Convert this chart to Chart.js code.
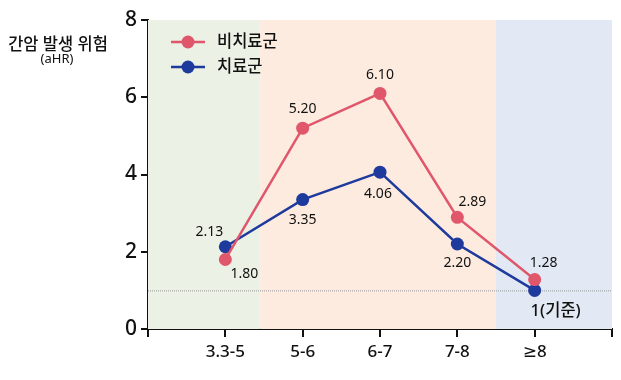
<!DOCTYPE html>
<html>
<head>
<meta charset="utf-8">
<script src="https://cdn.jsdelivr.net/npm/chart.js@4"></script>
<style>
  html, body { margin: 0; padding: 0; background: #fff; }
  #wrap { width: 621px; height: 380px; }
</style>
</head>
<body>
<div id="wrap"><canvas id="riskChart" width="621" height="380"></canvas></div>
<script>
// 간암 발생 위험 (aHR) by group
var categories = ['3.3-5', '5-6', '6-7', '7-8', '≥8'];
var untreatedValues = [1.80, 5.20, 6.10, 2.89, 1.28];   // 비치료군
var treatedValues = [2.13, 3.35, 4.06, 2.20, 1];        // 치료군
var untreatedLabels = ['1.80', '5.20', '6.10', '2.89', '1.28'];
var treatedLabels = ['2.13', '3.35', '4.06', '2.20', '1(기준)'];
var yTicks = [0, 2, 4, 6, 8];
var bandEdges = [0, 1.45, 4.5, 6];
var bandColors = ['#ebf1e5', '#fdebe0', '#e2e9f4'];
var referenceValue = 1;

var FONT = "'Noto Sans', 'DejaVu Sans', 'Noto Sans CJK KR', sans-serif";
var RED = '#e0566a';
var BLUE = '#1e3a9c';

function toPoints(values) {
    return values.map(function (v, i) { return { x: i + 1, y: v }; });
}

// label offsets (dx, dy) relative to each point
var untreatedOffsets = [[19, 15], [0, -19], [0, -18], [15, -15], [9, -17]];
var treatedOffsets = [[-16, -15], [0, 20], [-2, 22], [0, 19], [21, 21]];

var backgroundBands = {
    id: 'backgroundBands',
    beforeDatasetsDraw: function (chart) {
        var ctx = chart.ctx, xs = chart.scales.x, ys = chart.scales.y, area = chart.chartArea;
        ctx.save();
        for (var i = 0; i < bandColors.length; i++) {
            var x0 = xs.getPixelForValue(bandEdges[i]);
            var x1 = xs.getPixelForValue(bandEdges[i + 1]);
            ctx.fillStyle = bandColors[i];
            ctx.fillRect(x0, area.top, x1 - x0, area.bottom - area.top);
        }
        // reference line at aHR = 1
        var yr = ys.getPixelForValue(referenceValue);
        ctx.strokeStyle = '#9a9a9a';
        ctx.lineWidth = 1;
        ctx.setLineDash([1, 1]);
        ctx.beginPath();
        ctx.moveTo(area.left, yr + 0.5);
        ctx.lineTo(area.right, yr + 0.5);
        ctx.stroke();
        ctx.restore();
    }
};

var decorations = {
    id: 'decorations',
    afterDraw: function (chart) {
        var ctx = chart.ctx;
        ctx.save();
        ctx.fillStyle = '#111';
        ctx.textAlign = 'center';
        ctx.textBaseline = 'middle';

        // y title
        ctx.font = '500 16.5px ' + FONT;
        ctx.fillText('간암 발생 위험', 58, 45);
        ctx.font = '13px ' + FONT;
        ctx.fillText('(aHR)', 57, 59);

        // value labels
        ctx.font = '14px ' + FONT;
        var metaR = chart.getDatasetMeta(0), metaB = chart.getDatasetMeta(1);
        metaR.data.forEach(function (pt, i) {
            ctx.fillText(untreatedLabels[i], pt.x + untreatedOffsets[i][0], pt.y + untreatedOffsets[i][1]);
        });
        metaB.data.forEach(function (pt, i) {
            if (i === metaB.data.length - 1) ctx.font = '500 16.5px ' + FONT;
            ctx.fillText(treatedLabels[i], pt.x + treatedOffsets[i][0], pt.y + treatedOffsets[i][1]);
        });

        // legend
        var items = [['비치료군', RED, 42], ['치료군', BLUE, 67]];
        items.forEach(function (it) {
            ctx.strokeStyle = it[1];
            ctx.lineWidth = 2.5;
            ctx.beginPath();
            ctx.moveTo(171, it[2]);
            ctx.lineTo(205, it[2]);
            ctx.stroke();
            ctx.fillStyle = it[1];
            ctx.beginPath();
            ctx.arc(188, it[2], 6.5, 0, Math.PI * 2);
            ctx.fill();
            ctx.fillStyle = '#111';
            ctx.textAlign = 'left';
            ctx.font = '500 16.5px ' + FONT;
            ctx.fillText(it[0], 217, it[2]);
        });
        ctx.restore();
    }
};

var ctx = document.getElementById('riskChart').getContext('2d');
var riskChart = new Chart(ctx, {
    type: 'line',
    data: {
        datasets: [{
            label: '비치료군',
            data: toPoints(untreatedValues),
            borderColor: RED,
            backgroundColor: RED,
            borderWidth: 2.5,
            pointRadius: 6.5,
            pointBorderWidth: 0,
            tension: 0
        }, {
            label: '치료군',
            data: toPoints(treatedValues),
            borderColor: BLUE,
            backgroundColor: BLUE,
            borderWidth: 2.5,
            pointRadius: 6.5,
            pointBorderWidth: 0,
            tension: 0
        }]
    },
    options: {
        responsive: false,
        animation: false,
        devicePixelRatio: 1,
        layout: { padding: { top: 20, right: 9, left: 0, bottom: 0 } },
        plugins: {
            legend: { display: false },
            tooltip: { enabled: false }
        },
        scales: {
            x: {
                type: 'linear',
                min: 0,
                max: 6,
                afterFit: function (scale) { scale.height = 51; },
                afterBuildTicks: function (scale) {
                    scale.ticks = [0, 1, 2, 3, 4, 5, 6].map(function (v) { return { value: v }; });
                },
                ticks: {
                    color: '#111',
                    font: { family: FONT, size: 17, weight: '500' },
                    padding: 5,
                    maxRotation: 0,
                    autoSkip: false,
                    callback: function (value) {
                        return categories[value - 1] || '';
                    }
                },
                grid: { drawOnChartArea: false, color: '#111', tickLength: 8, lineWidth: 2 },
                border: { color: '#111', width: 2 }
            },
            y: {
                min: 0,
                max: 8,
                afterFit: function (scale) { scale.width = 148; },
                afterBuildTicks: function (scale) {
                    scale.ticks = yTicks.map(function (v) { return { value: v }; });
                },
                ticks: {
                    color: '#111',
                    font: { family: FONT, size: 21, weight: '500' },
                    padding: 4
                },
                grid: { drawOnChartArea: false, color: '#111', tickLength: 7, lineWidth: 2 },
                border: { color: '#111', width: 2 }
            }
        }
    },
    plugins: [backgroundBands, decorations]
});
</script>
</body>
</html>
